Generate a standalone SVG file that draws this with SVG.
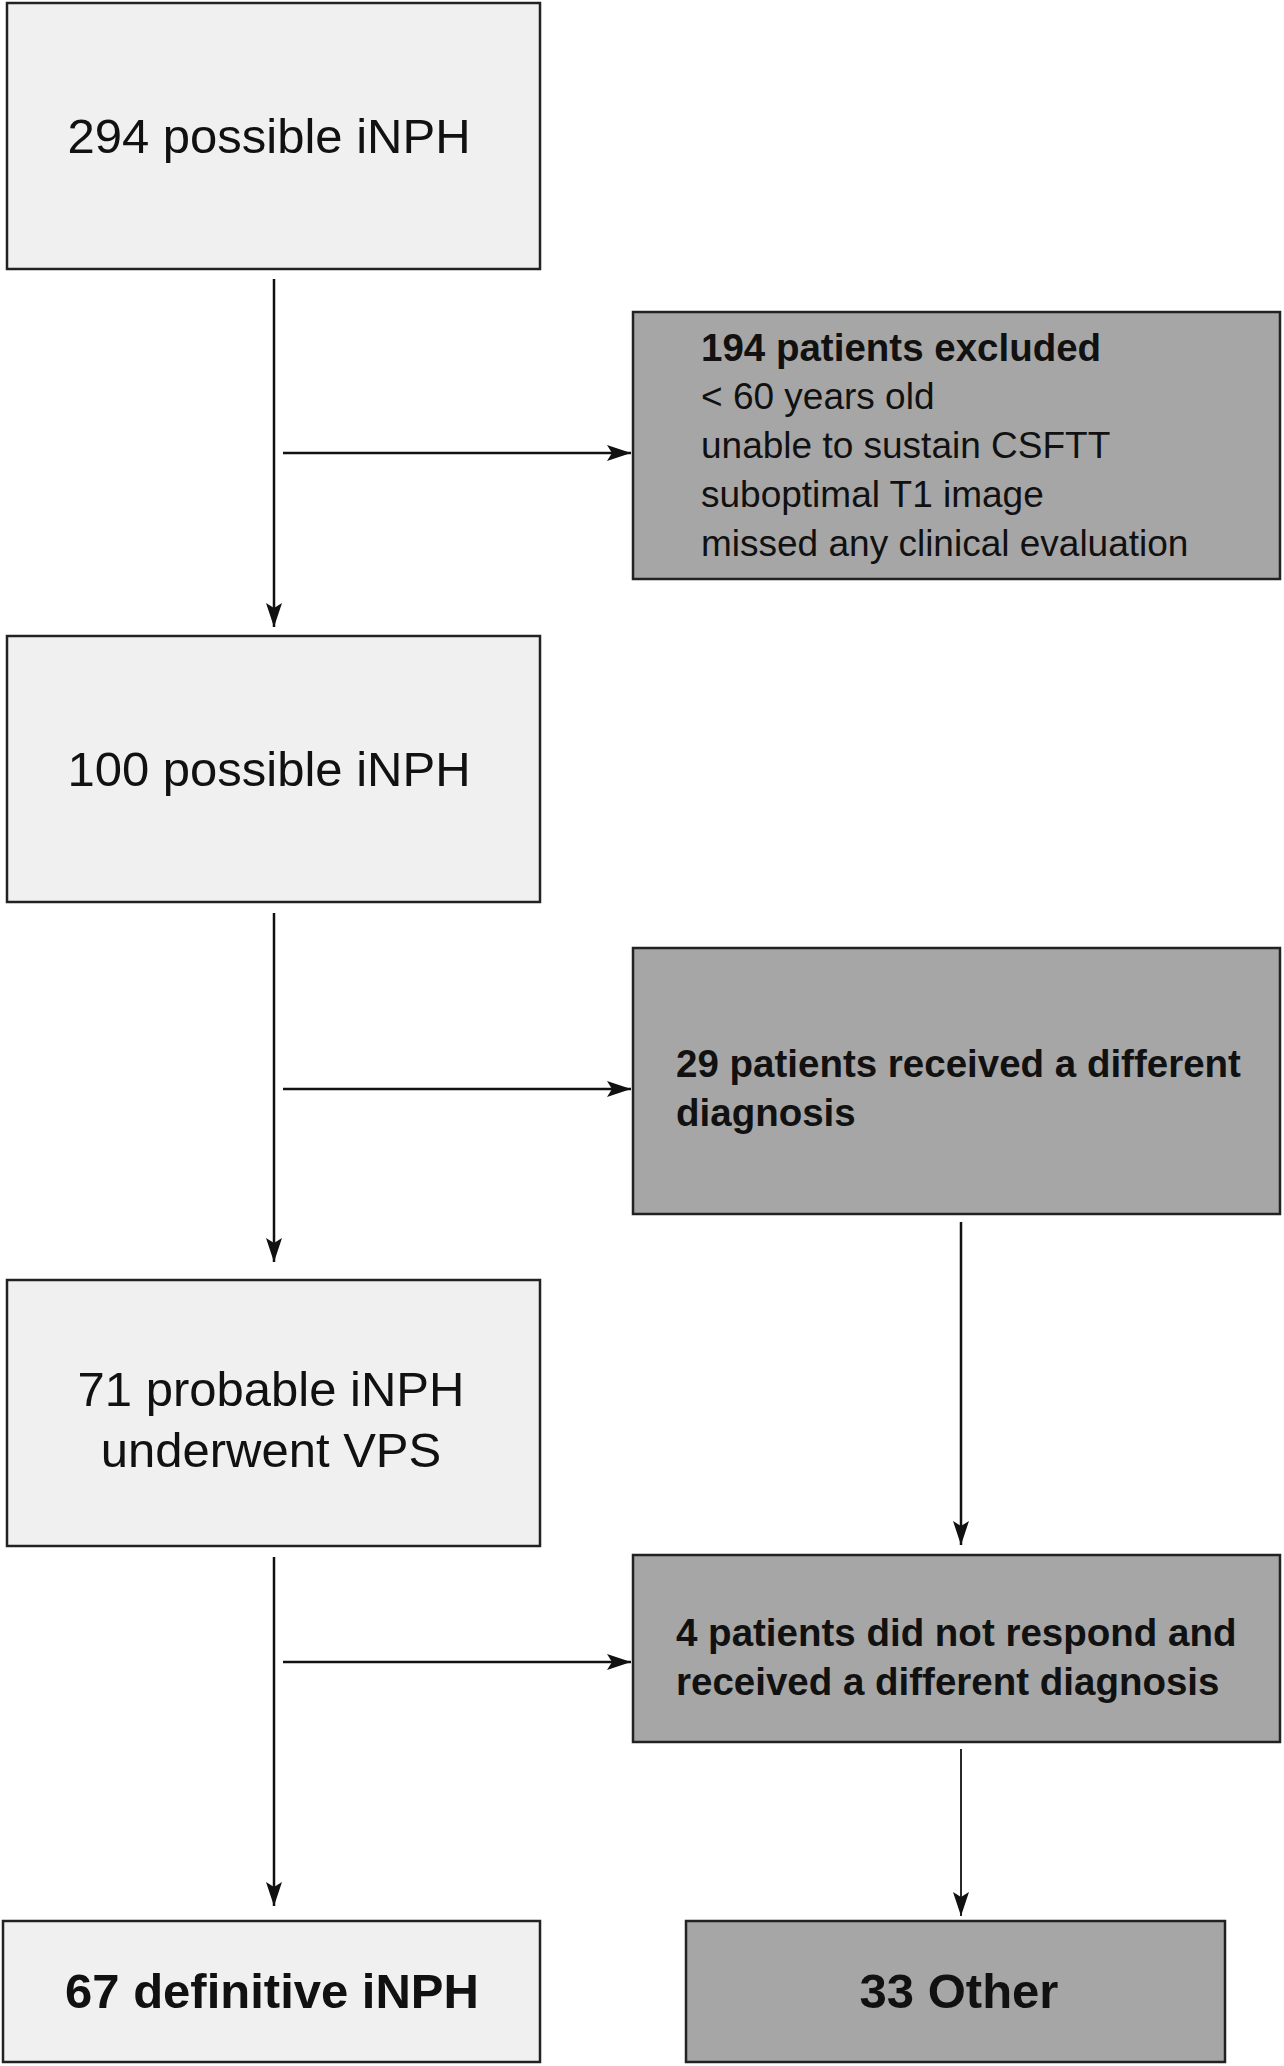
<svg xmlns="http://www.w3.org/2000/svg" width="1284" height="2066" viewBox="0 0 1284 2066">
<style>
.l{fill:#f0f0f0;stroke:#222;stroke-width:2.5}
.d{fill:#a6a6a6;stroke:#222;stroke-width:2.5}
text{font-family:"Liberation Sans",Arial,sans-serif;fill:#111}
.big{font-size:49px;text-anchor:middle}
.bb{font-size:49px;font-weight:bold;text-anchor:middle}
.sm{font-size:37px}
.sb{font-size:38.5px;font-weight:bold}
</style>
<defs>
<marker id="a2" markerWidth="24" markerHeight="20" refX="24" refY="10" orient="auto" markerUnits="userSpaceOnUse" viewBox="0 0 24 20"><path d="M0,2 L24,10 L0,18 L5,10 z" fill="#111"/></marker></defs>
<g id="n1"><rect class="l" x="7" y="3" width="533" height="266"/><text class="big" x="269" y="153">294 possible iNPH</text></g>
<g id="n2"><rect class="d" x="633" y="312" width="647" height="267"/>
<text class="sb" x="701" y="361">194 patients excluded</text>
<text class="sm" x="701" y="409">&lt; 60 years old</text>
<text class="sm" x="701" y="458">unable to sustain CSFTT</text>
<text class="sm" x="701" y="507">suboptimal T1 image</text>
<text class="sm" x="701" y="556">missed any clinical evaluation</text></g>
<g id="n3"><rect class="l" x="7" y="636" width="533" height="266"/><text class="big" x="269" y="786">100 possible iNPH</text></g>
<g id="n4"><rect class="d" x="633" y="948" width="647" height="266"/>
<text class="sb" x="676" y="1077">29 patients received a different</text>
<text class="sb" x="676" y="1126">diagnosis</text></g>
<g id="n5"><rect class="l" x="7" y="1280" width="533" height="266"/><text class="big" x="271" y="1406">71 probable iNPH</text><text class="big" x="271" y="1467">underwent VPS</text></g>
<g id="n6"><rect class="d" x="633" y="1555" width="647" height="187"/>
<text class="sb" x="676" y="1646">4 patients did not respond and</text>
<text class="sb" x="676" y="1695">received a different diagnosis</text></g>
<g id="n7"><rect class="l" x="3" y="1921" width="537" height="141"/><text class="bb" x="272" y="2008">67 definitive iNPH</text></g>
<g id="n8"><rect class="d" x="686" y="1921" width="539" height="141"/><text class="bb" x="959" y="2008">33 Other</text></g>
<g id="connectors" stroke="#111" stroke-width="2.5" fill="none">
<path d="M274,279 V627" marker-end="url(#a2)"/>
<path d="M283,453 H631" marker-end="url(#a2)"/>
<path d="M274,913 V1262" marker-end="url(#a2)"/>
<path d="M283,1089 H631" marker-end="url(#a2)"/>
<path d="M274,1557 V1906" marker-end="url(#a2)"/>
<path d="M283,1662 H631" marker-end="url(#a2)"/>
<path d="M961,1222 V1545" marker-end="url(#a2)"/>
<path d="M961,1749 V1916" stroke-width="1.8" marker-end="url(#a2)"/>
</g>
</svg>
